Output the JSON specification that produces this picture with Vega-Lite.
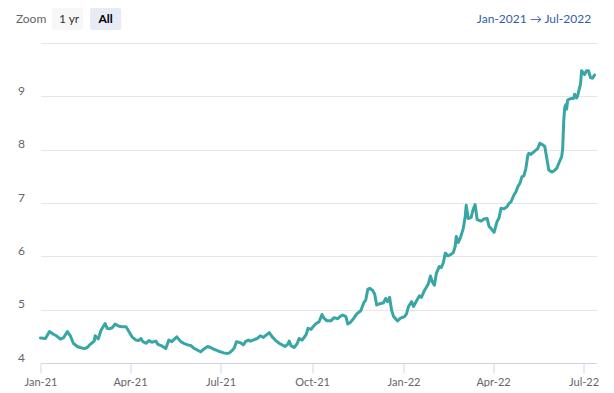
{
  "$schema": "https://vega.github.io/schema/vega-lite/v6.json",
  "padding": {"left": 13.5, "top": 8, "right": 0, "bottom": 0},
  "background": "white",
  "config": {"view": {"stroke": null}, "font": "Lato"},
  "spacing": 13,
  "datasets": {
    "buttons": [{"b": "Zoom"}, {"b": "1 yr"}, {"b": "All"}],
    "range": [{"t": "Jan-2021 → Jul-2022"}],
    "series": [
      {"d":"2021-01-01","v":4.47},{"d":"2021-01-06","v":4.46},{"d":"2021-01-10","v":4.59},{"d":"2021-01-14","v":4.54},
      {"d":"2021-01-17","v":4.51},{"d":"2021-01-21","v":4.45},{"d":"2021-01-24","v":4.47},{"d":"2021-01-28","v":4.59},
      {"d":"2021-01-31","v":4.51},{"d":"2021-02-03","v":4.37},{"d":"2021-02-07","v":4.31},{"d":"2021-02-10","v":4.29},
      {"d":"2021-02-14","v":4.27},{"d":"2021-02-17","v":4.29},{"d":"2021-02-20","v":4.35},{"d":"2021-02-24","v":4.41},
      {"d":"2021-02-25","v":4.51},{"d":"2021-02-28","v":4.45},{"d":"2021-03-03","v":4.62},{"d":"2021-03-07","v":4.74},
      {"d":"2021-03-09","v":4.65},{"d":"2021-03-11","v":4.64},{"d":"2021-03-14","v":4.66},{"d":"2021-03-17","v":4.73},
      {"d":"2021-03-21","v":4.69},{"d":"2021-03-24","v":4.68},{"d":"2021-03-28","v":4.68},{"d":"2021-03-30","v":4.62},
      {"d":"2021-04-03","v":4.49},{"d":"2021-04-07","v":4.43},{"d":"2021-04-10","v":4.42},{"d":"2021-04-12","v":4.46},
      {"d":"2021-04-14","v":4.40},{"d":"2021-04-17","v":4.37},{"d":"2021-04-20","v":4.42},{"d":"2021-04-23","v":4.39},
      {"d":"2021-04-27","v":4.41},{"d":"2021-04-29","v":4.35},{"d":"2021-05-03","v":4.32},{"d":"2021-05-07","v":4.27},
      {"d":"2021-05-10","v":4.43},{"d":"2021-05-13","v":4.40},{"d":"2021-05-18","v":4.49},{"d":"2021-05-22","v":4.40},
      {"d":"2021-05-25","v":4.37},{"d":"2021-05-29","v":4.34},{"d":"2021-06-01","v":4.33},{"d":"2021-06-04","v":4.28},
      {"d":"2021-06-08","v":4.24},{"d":"2021-06-11","v":4.21},{"d":"2021-06-14","v":4.26},{"d":"2021-06-18","v":4.31},
      {"d":"2021-06-21","v":4.29},{"d":"2021-06-24","v":4.26},{"d":"2021-06-28","v":4.23},{"d":"2021-07-01","v":4.21},
      {"d":"2021-07-04","v":4.19},{"d":"2021-07-08","v":4.18},{"d":"2021-07-10","v":4.19},{"d":"2021-07-13","v":4.24},
      {"d":"2021-07-15","v":4.29},{"d":"2021-07-17","v":4.40},{"d":"2021-07-21","v":4.38},{"d":"2021-07-24","v":4.34},
      {"d":"2021-07-26","v":4.40},{"d":"2021-07-29","v":4.43},{"d":"2021-07-31","v":4.41},{"d":"2021-08-04","v":4.44},
      {"d":"2021-08-07","v":4.46},{"d":"2021-08-10","v":4.51},{"d":"2021-08-13","v":4.48},{"d":"2021-08-15","v":4.51},
      {"d":"2021-08-19","v":4.57},{"d":"2021-08-22","v":4.49},{"d":"2021-08-25","v":4.43},{"d":"2021-08-29","v":4.37},
      {"d":"2021-09-01","v":4.34},{"d":"2021-09-04","v":4.31},{"d":"2021-09-07","v":4.36},{"d":"2021-09-08","v":4.41},
      {"d":"2021-09-10","v":4.32},{"d":"2021-09-13","v":4.29},{"d":"2021-09-16","v":4.36},{"d":"2021-09-18","v":4.46},
      {"d":"2021-09-21","v":4.43},{"d":"2021-09-25","v":4.53},{"d":"2021-09-27","v":4.65},{"d":"2021-09-30","v":4.63},
      {"d":"2021-10-02","v":4.68},{"d":"2021-10-05","v":4.74},{"d":"2021-10-08","v":4.77},{"d":"2021-10-11","v":4.91},
      {"d":"2021-10-13","v":4.84},{"d":"2021-10-16","v":4.79},{"d":"2021-10-20","v":4.79},{"d":"2021-10-23","v":4.85},
      {"d":"2021-10-27","v":4.83},{"d":"2021-10-29","v":4.87},{"d":"2021-11-01","v":4.90},{"d":"2021-11-04","v":4.87},
      {"d":"2021-11-06","v":4.73},{"d":"2021-11-09","v":4.77},{"d":"2021-11-12","v":4.84},{"d":"2021-11-15","v":4.92},
      {"d":"2021-11-19","v":4.98},{"d":"2021-11-22","v":5.13},{"d":"2021-11-24","v":5.18},{"d":"2021-11-26","v":5.38},
      {"d":"2021-11-28","v":5.40},{"d":"2021-12-01","v":5.36},{"d":"2021-12-03","v":5.29},{"d":"2021-12-05","v":5.09},
      {"d":"2021-12-08","v":5.11},{"d":"2021-12-12","v":5.13},{"d":"2021-12-14","v":5.21},{"d":"2021-12-16","v":5.15},
      {"d":"2021-12-18","v":5.23},{"d":"2021-12-20","v":4.99},{"d":"2021-12-22","v":4.87},{"d":"2021-12-26","v":4.79},
      {"d":"2021-12-29","v":4.84},{"d":"2022-01-02","v":4.87},{"d":"2022-01-04","v":4.92},{"d":"2022-01-06","v":5.06},
      {"d":"2022-01-09","v":5.15},{"d":"2022-01-11","v":5.06},{"d":"2022-01-13","v":5.13},{"d":"2022-01-17","v":5.26},
      {"d":"2022-01-19","v":5.23},{"d":"2022-01-22","v":5.36},{"d":"2022-01-24","v":5.42},{"d":"2022-01-26","v":5.49},
      {"d":"2022-01-28","v":5.63},{"d":"2022-01-30","v":5.52},{"d":"2022-02-01","v":5.46},{"d":"2022-02-03","v":5.68},
      {"d":"2022-02-06","v":5.81},{"d":"2022-02-08","v":5.79},{"d":"2022-02-10","v":5.88},{"d":"2022-02-12","v":6.06},
      {"d":"2022-02-15","v":6.01},{"d":"2022-02-17","v":6.03},{"d":"2022-02-20","v":6.07},{"d":"2022-02-22","v":6.19},
      {"d":"2022-02-23","v":6.37},{"d":"2022-02-25","v":6.26},{"d":"2022-02-27","v":6.34},{"d":"2022-03-02","v":6.52},
      {"d":"2022-03-04","v":6.74},{"d":"2022-03-05","v":6.96},{"d":"2022-03-07","v":6.71},{"d":"2022-03-10","v":6.73},
      {"d":"2022-03-12","v":6.88},{"d":"2022-03-14","v":6.97},{"d":"2022-03-16","v":6.69},{"d":"2022-03-20","v":6.66},
      {"d":"2022-03-23","v":6.70},{"d":"2022-03-26","v":6.71},{"d":"2022-03-28","v":6.56},{"d":"2022-03-30","v":6.52},
      {"d":"2022-04-02","v":6.45},{"d":"2022-04-05","v":6.65},{"d":"2022-04-07","v":6.72},{"d":"2022-04-09","v":6.90},
      {"d":"2022-04-12","v":6.89},{"d":"2022-04-15","v":6.93},{"d":"2022-04-17","v":6.99},{"d":"2022-04-19","v":7.02},
      {"d":"2022-04-22","v":7.15},{"d":"2022-04-24","v":7.21},{"d":"2022-04-26","v":7.31},{"d":"2022-04-28","v":7.37},
      {"d":"2022-04-30","v":7.49},{"d":"2022-05-02","v":7.51},{"d":"2022-05-04","v":7.65},{"d":"2022-05-06","v":7.90},
      {"d":"2022-05-07","v":7.93},{"d":"2022-05-09","v":7.91},{"d":"2022-05-12","v":7.96},{"d":"2022-05-14","v":7.99},
      {"d":"2022-05-16","v":8.02},{"d":"2022-05-18","v":8.12},{"d":"2022-05-21","v":8.09},{"d":"2022-05-23","v":8.06},
      {"d":"2022-05-25","v":7.84},{"d":"2022-05-27","v":7.62},{"d":"2022-05-30","v":7.58},{"d":"2022-06-01","v":7.60},
      {"d":"2022-06-04","v":7.65},{"d":"2022-06-06","v":7.74},{"d":"2022-06-09","v":7.87},{"d":"2022-06-10","v":8.02},
      {"d":"2022-06-11","v":8.52},{"d":"2022-06-12","v":8.78},{"d":"2022-06-13","v":8.84},{"d":"2022-06-14","v":8.76},
      {"d":"2022-06-15","v":8.93},{"d":"2022-06-18","v":8.96},{"d":"2022-06-21","v":8.96},{"d":"2022-06-22","v":9.04},
      {"d":"2022-06-24","v":8.97},{"d":"2022-06-25","v":9.01},{"d":"2022-06-28","v":9.24},{"d":"2022-06-29","v":9.48},
      {"d":"2022-07-02","v":9.41},{"d":"2022-07-04","v":9.48},{"d":"2022-07-06","v":9.48},{"d":"2022-07-08","v":9.35},
      {"d":"2022-07-10","v":9.34},{"d":"2022-07-12","v":9.40}
    ]
  },
  "vconcat": [
    {
      "hconcat": [
        {
          "data": {"name": "buttons"},
          "width": {"step": 38},
          "height": 22,
          "encoding": {
            "x": {"field": "b", "type": "nominal", "sort": null, "axis": null,
                  "scale": {"paddingInner": 0.18, "paddingOuter": 0}}
          },
          "layer": [
            {
              "mark": {"type": "rect", "cornerRadius": 2, "xOffset": -26.5},
              "encoding": {
                "fill": {"field": "b", "type": "nominal", "legend": null,
                         "scale": {"domain": ["Zoom", "1 yr", "All"], "range": ["#ffffff", "#f7f7f7", "#e6ebf5"]}}
              }
            },
            {
              "transform": [{"filter": "datum.b != 'All'"}],
              "mark": {"type": "text", "fontSize": 12, "xOffset": -25},
              "encoding": {
                "text": {"field": "b"},
                "color": {"field": "b", "type": "nominal", "legend": null,
                          "scale": {"domain": ["Zoom", "1 yr"], "range": ["#666666", "#333333"]}}
              }
            },
            {
              "transform": [{"filter": "datum.b == 'All'"}],
              "mark": {"type": "text", "fontSize": 12, "fontWeight": "bold", "color": "#000000", "xOffset": -26.5},
              "encoding": {"text": {"field": "b"}}
            }
          ],
          "resolve": {"scale": {"color": "independent", "fill": "independent"}}
        },
        {
          "data": {"name": "range"},
          "width": 115,
          "height": 22,
          "mark": {"type": "text", "fontSize": 12, "color": "#335cad"},
          "encoding": {"text": {"field": "t"}}
        }
      ],
      "spacing": 328
    },
    {
      "data": {"name": "series", "format": {"parse": {"d": "date:'%Y-%m-%d'"}}},
      "width": 556,
      "height": 320,
      "mark": {"type": "line", "color": "#38a6a5", "strokeWidth": 3, "strokeJoin": "round", "strokeCap": "round"},
      "encoding": {
        "x": {
          "field": "d", "type": "temporal",
          "scale": {"domain": [{"year": 2021, "month": 1, "date": 1}, {"year": 2022, "month": 7, "date": 14}]},
          "axis": {
            "title": null,
            "values": [
              {"year": 2021, "month": 1, "date": 1}, {"year": 2021, "month": 4, "date": 1},
              {"year": 2021, "month": 7, "date": 1}, {"year": 2021, "month": 10, "date": 1},
              {"year": 2022, "month": 1, "date": 1}, {"year": 2022, "month": 4, "date": 1},
              {"year": 2022, "month": 7, "date": 1}
            ],
            "format": "%b-%y",
            "grid": false,
            "domainColor": "#ccd6eb",
            "tickColor": "#ccd6eb",
            "tickSize": 10,
            "labelColor": "#666666",
            "labelFontSize": 11,
            "labelPadding": 3,
            "labelFlush": false,
            "labelOverlap": false
          }
        },
        "y": {
          "field": "v", "type": "quantitative",
          "scale": {"domain": [4, 10], "nice": false, "zero": false},
          "axis": {
            "title": null,
            "values": [4, 5, 6, 7, 8, 9, 10],
            "labelExpr": "datum.value == 10 ? '' : datum.label",
            "grid": true,
            "gridColor": "#e6e6e6",
            "domain": false,
            "ticks": false,
            "labelPadding": 16,
            "labelOffset": -6,
            "labelColor": "#666666",
            "labelFontSize": 12
          }
        }
      }
    }
  ]
}
